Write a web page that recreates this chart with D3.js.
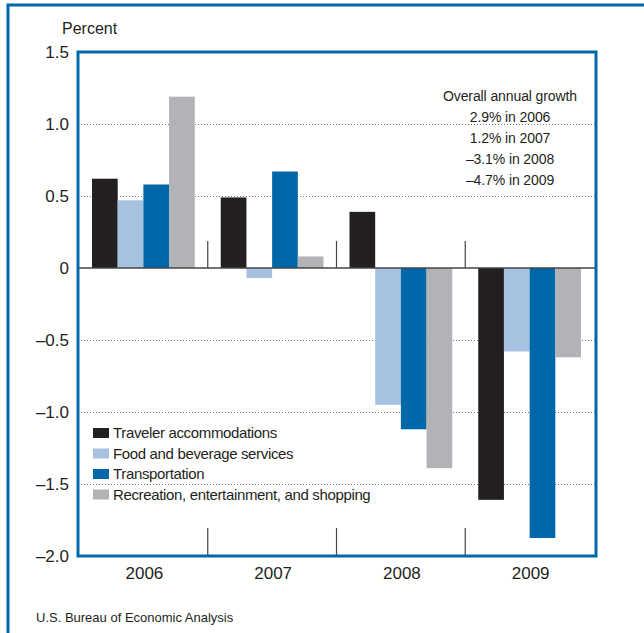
<!DOCTYPE html>
<html>
<head>
<meta charset="utf-8">
<script src="https://cdn.jsdelivr.net/npm/d3@7"></script>
<style>
  body { margin: 0; background: #fff; }
  svg { font-family: "Liberation Sans", Arial, sans-serif; }
  text { fill: #231f20; }
</style>
</head>
<body>
<div id="chart"></div>
<script>
// data
const years = ['2006', '2007', '2008', '2009'];
const series = [
  'Traveler accommodations',
  'Food and beverage services',
  'Transportation',
  'Recreation, entertainment, and shopping'
];
const accommodations = [0.62, 0.49, 0.39, -1.61];
const foodBeverage = [0.47, -0.07, -0.95, -0.58];
const transportation = [0.58, 0.67, -1.12, -1.875];
const recreation = [1.19, 0.08, -1.39, -0.62];
const yTicks = [1.5, 1.0, 0.5, 0, -0.5, -1.0, -1.5, -2.0];
const growthNotes = [
  'Overall annual growth',
  '2.9% in 2006',
  '1.2% in 2007',
  '\u20133.1% in 2008',
  '\u20134.7% in 2009'
];
const colors = ['#231f20', '#a7c1e0', '#0067a9', '#b1b3b6'];

const values = [accommodations, foodBeverage, transportation, recreation];
const rows = [];
years.forEach((yr, i) => {
  series.forEach((s, j) => rows.push({ year: yr, series: s, value: values[j][i] }));
});

const width = 644, height = 633;
const plot = { left: 78, right: 596, top: 52, bottom: 556 };
const frameBlue = '#0067a9';

const svg = d3.select('#chart').append('svg')
  .attr('width', width)
  .attr('height', height);

// outer frame (top + left)
svg.append('path')
  .attr('d', `M8,${height} L8,5 L${width},5`)
  .attr('fill', 'none')
  .attr('stroke', frameBlue)
  .attr('stroke-width', 3);

const x = d3.scaleBand().domain(years).range([80, 595]).padding(0);
const xInner = d3.scaleBand().domain(series)
  .range([12, x.bandwidth() - 14]);
const y = d3.scaleLinear().domain([-2, 1.5]).range([plot.bottom, plot.top]);

// dotted gridlines
svg.append('g')
  .attr('class', 'grid')
  .attr('transform', `translate(${plot.left},0)`)
  .call(d3.axisLeft(y).tickValues(yTicks.filter((d) => d !== 0 && d !== 1.5 && d !== -2))
    .tickSize(-(plot.right - plot.left)).tickFormat(''))
  .call((g) => g.select('.domain').remove())
  .call((g) => g.selectAll('line')
    .attr('stroke', '#777')
    .attr('stroke-width', 1)
    .attr('stroke-dasharray', '1,2'));

// bars
svg.append('g')
  .selectAll('rect')
  .data(rows)
  .join('rect')
  .attr('x', (d) => x(d.year) + xInner(d.series))
  .attr('width', xInner.bandwidth())
  .attr('y', (d) => y(Math.max(0, d.value)))
  .attr('height', (d) => Math.abs(y(d.value) - y(0)))
  .attr('fill', (d) => colors[series.indexOf(d.series)]);

// zero line
svg.append('line')
  .attr('x1', plot.left).attr('x2', plot.right)
  .attr('y1', y(0)).attr('y2', y(0))
  .attr('stroke', '#444')
  .attr('stroke-width', 1.5);

// year separators (top near zero, and at bottom)
const seps = years.slice(1).map((yr) => x(yr) - 1);
const sepG = svg.append('g').attr('stroke', '#444').attr('stroke-width', 1.2);
sepG.selectAll('line.top')
  .data(seps)
  .join('line')
  .attr('class', 'top')
  .attr('x1', (d) => d).attr('x2', (d) => d)
  .attr('y1', y(0) - 27).attr('y2', y(0));
sepG.selectAll('line.bot')
  .data(seps)
  .join('line')
  .attr('class', 'bot')
  .attr('x1', (d) => d).attr('x2', (d) => d)
  .attr('y1', plot.bottom - 28).attr('y2', plot.bottom);

// plot frame
svg.append('rect')
  .attr('x', plot.left).attr('y', plot.top)
  .attr('width', plot.right - plot.left)
  .attr('height', plot.bottom - plot.top)
  .attr('fill', 'none')
  .attr('stroke', frameBlue)
  .attr('stroke-width', 3);

// y axis labels
svg.append('g')
  .attr('transform', `translate(${plot.left - 6},0)`)
  .call(d3.axisLeft(y).tickValues(yTicks).tickSize(0)
    .tickFormat((d) => (d < 0 ? '\u2013' : '') + (d === 0 ? '0' : Math.abs(d).toFixed(1))))
  .call((g) => g.select('.domain').remove())
  .call((g) => g.selectAll('text')
    .attr('font-size', 17)
    .attr('fill', '#231f20')
    .attr('font-family', '"Liberation Sans", Arial, sans-serif'));

svg.append('text')
  .attr('x', 62).attr('y', 34)
  .attr('font-size', 16)
  .text('Percent');

// x axis labels
svg.append('g')
  .attr('transform', `translate(0,${plot.bottom + 8})`)
  .call(d3.axisBottom(x).tickSize(0))
  .call((g) => g.select('.domain').remove())
  .call((g) => g.selectAll('text')
    .attr('font-size', 17)
    .attr('fill', '#231f20')
    .attr('font-family', '"Liberation Sans", Arial, sans-serif'));

// annotation
svg.append('g')
  .selectAll('text')
  .data(growthNotes)
  .join('text')
  .attr('x', 510)
  .attr('y', (d, i) => 101 + i * 21)
  .attr('text-anchor', 'middle')
  .attr('font-size', 14)
  .attr('letter-spacing', -0.1)
  .text((d) => d);

// legend
const legend = svg.append('g')
  .selectAll('g')
  .data(series)
  .join('g')
  .attr('transform', (d, i) => `translate(93,${433 + i * 20.5})`);
legend.append('rect')
  .attr('x', 0).attr('y', -5)
  .attr('width', 16).attr('height', 10)
  .attr('fill', (d, i) => colors[i]);
legend.append('text')
  .attr('x', 20).attr('y', 5)
  .attr('font-size', 15)
  .attr('letter-spacing', -0.35)
  .text((d) => d);

// source
svg.append('text')
  .attr('x', 36).attr('y', 622)
  .attr('font-size', 13)
  .text('U.S. Bureau of Economic Analysis');
</script>
</body>
</html>
